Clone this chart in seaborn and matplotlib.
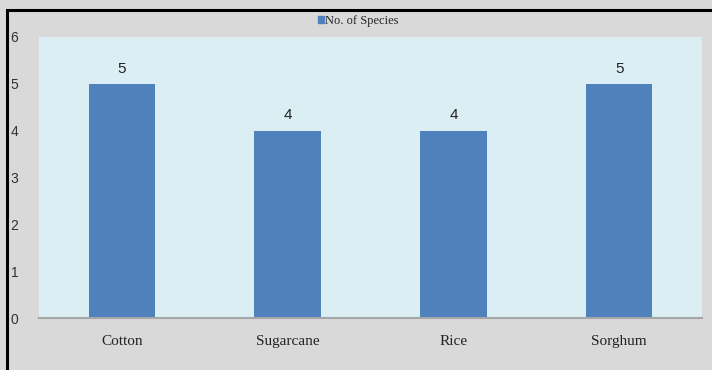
import matplotlib
matplotlib.use("Agg")
import matplotlib.pyplot as plt
import seaborn as sns
import pandas as pd
from matplotlib.patches import Rectangle, Patch

crops = ["Cotton", "Sugarcane", "Rice", "Sorghum"]
species = [5, 4, 4, 5]
y_ticks = [0, 1, 2, 3, 4, 5, 6]

df = pd.DataFrame({"Crop": crops, "No. of Species": species})

sns.set_theme(style="white")
plt.rcParams["font.family"] = ["DejaVu Sans"]

W, H = 712, 370
fig = plt.figure(figsize=(W / 100, H / 100), dpi=100, facecolor="#d9d9d9")

# outer chart frame (left and top edges visible)
fig.add_artist(Rectangle((7 / W, -0.2), 1.5, 0.2 + (H - 10) / H, transform=fig.transFigure,
                         fill=False, edgecolor="black", linewidth=2.2, clip_on=False))

ax = fig.add_axes([39 / W, (H - 318) / H, (702 - 39) / W, (318 - 37) / H])
ax.set_facecolor("#dbeef4")

sns.barplot(data=df, x="Crop", y="No. of Species", color="#4f81bd",
            width=0.4, saturation=1, linewidth=0, edgecolor="none", ax=ax)

ax.set_ylim(0, 6)
ax.set_yticks(y_ticks)
ax.set_yticklabels([str(t) for t in y_ticks], fontsize=10, color="#333333",
                   family=["Liberation Sans", "DejaVu Sans"])
ax.tick_params(axis="y", length=0, pad=15)
ax.tick_params(axis="x", length=0, pad=12)
for lbl in ax.get_xticklabels():
    lbl.set_family(["Liberation Serif", "DejaVu Serif"])
    lbl.set_fontsize(11)
    lbl.set_color("#222222")
ax.set_xlabel("")
ax.set_ylabel("")

for side in ["top", "right", "left"]:
    ax.spines[side].set_visible(False)
ax.spines["bottom"].set_color("#a6a6a6")
ax.spines["bottom"].set_linewidth(1.5)

for p, v in zip(ax.patches, species):
    ax.annotate(str(v), (p.get_x() + p.get_width() / 2, v), xytext=(0, 6),
                textcoords="offset points", ha="center", va="bottom",
                fontsize=11, color="#222222", family=["Liberation Sans", "DejaVu Sans"])

fig.legend(handles=[Patch(color="#4f81bd", label="No. of Species")],
           loc="center", bbox_to_anchor=(0.503, (H - 21) / H), frameon=False,
           prop={"family": ["Liberation Serif", "DejaVu Serif"], "size": 9},
           handlelength=0.5, handleheight=0.5, handletextpad=0.1)

fig.savefig("out.png", dpi=100, facecolor=fig.get_facecolor())
